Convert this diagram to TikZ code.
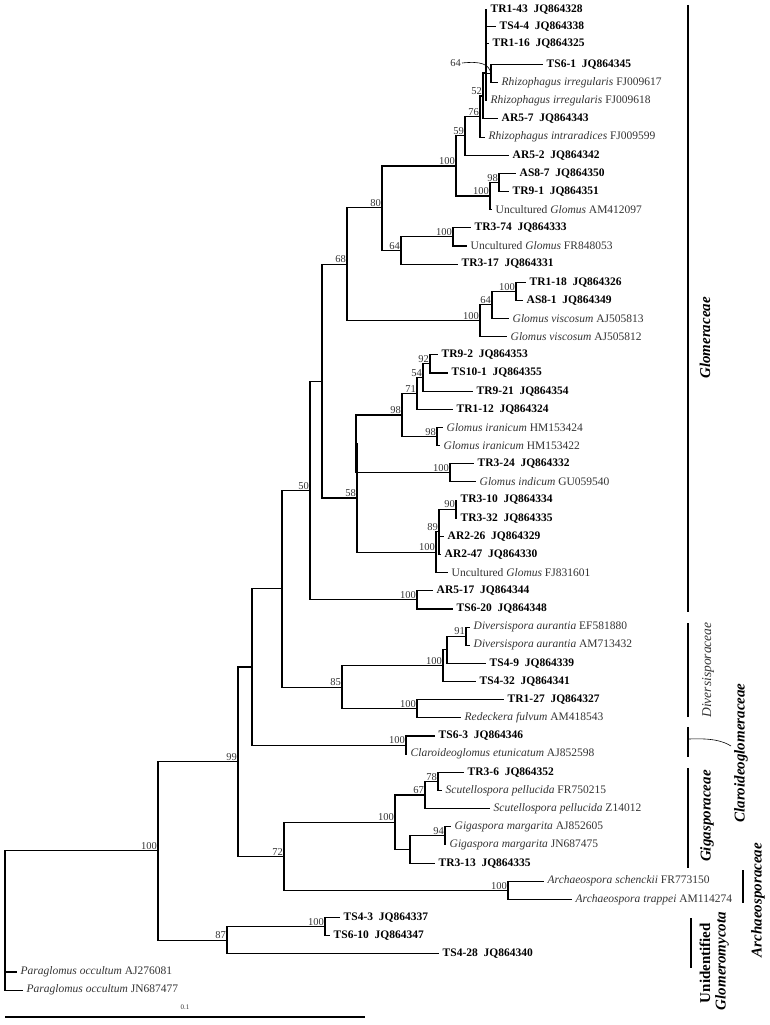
\documentclass[tikz,border=0pt]{standalone}
\usepackage{fontspec}
\setmainfont{Liberation Serif}
\newcommand{\isol}[2]{{\color{black}\bfseries #1\hspace{.5em}#2}}
\newcommand{\taxon}[2]{\textit{#1} #2}

\begin{document}
\begin{tikzpicture}[x=1pt,y=-1pt,
	every node/.style={font=\fontsize{11.5}{13}\selectfont, text=black!80},
	br/.style={line width=1.1pt, line cap=rect},
	leaf/.style={anchor=west, inner xsep=4.5pt, inner ysep=0pt},
	bs/.style={anchor=south east, inner sep=1pt, font=\fontsize{10.5}{12}\selectfont},
	ptr/.style={line width=0.6pt},
	bar/.style={line width=1.8pt},
	clade/.style={rotate=90, inner sep=0pt, text=black, font=\fontsize{15}{17}\selectfont\bfseries\itshape}]
	\useasboundingbox (0,0) rectangle (769,1025);
	\coordinate (root) at (5,920.5);
	\coordinate (nMain) at (158,850.9);
	\coordinate (n99) at (238,761.6);
	\coordinate (n87) at (227,940.2);
	\coordinate (nTS43) at (325,926.6);
	\coordinate (nA252) at (252,667);
	\coordinate (nA282) at (282,588.9);
	\coordinate (n50) at (310,490.5);
	\coordinate (nA322) at (322,381.1);
	\coordinate (n68) at (347,264.2);
	\coordinate (n80) at (382,207.6);
	\coordinate (nG1) at (456,166);
	\coordinate (n59) at (465,135.9);
	\coordinate (n76) at (480,116.5);
	\coordinate (n52) at (483,96);
	\coordinate (nZ) at (486,73);
	\coordinate (n64a) at (491,73.5);
	\coordinate (nAS) at (490,196);
	\coordinate (n98b) at (499,182.4);
	\coordinate (n64b) at (401,250.5);
	\coordinate (nTR374) at (453,236.9);
	\coordinate (n100d) at (480,320.8);
	\coordinate (n64c) at (492,304.9);
	\coordinate (nTR118) at (516,291.3);
	\coordinate (n58) at (357,498);
	\coordinate (nY) at (356,443.9);
	\coordinate (n98a) at (402,415);
	\coordinate (n71) at (417,393.4);
	\coordinate (n54) at (423,377.5);
	\coordinate (n92) at (430,363.9);
	\coordinate (n98i) at (437,436.5);
	\coordinate (nTR324) at (450,472.8);
	\coordinate (nAR2) at (436,552.2);
	\coordinate (n89) at (439,531.8);
	\coordinate (n90) at (456,509.1);
	\coordinate (nAR517) at (417,599.9);
	\coordinate (n85) at (342,687.2);
	\coordinate (nDiv) at (443,665.7);
	\coordinate (nW) at (447,649.8);
	\coordinate (n91) at (466,636.2);
	\coordinate (nTR127) at (417,708.8);
	\coordinate (nTS63) at (406,745.1);
	\coordinate (n72) at (284,856.2);
	\coordinate (nGig) at (395,822.2);
	\coordinate (n67) at (425,795);
	\coordinate (n78) at (438,781.4);
	\coordinate (nV) at (410,849.4);
	\coordinate (n94) at (445,835.8);
	\coordinate (nArc) at (508,890.3);

	\node[leaf] (l1) at (486,10) {\isol{TR1-43}{JQ864328}};
	\node[leaf] (l2) at (495,26.5) {\isol{TS4-4}{JQ864338}};
	\node[leaf] (l3) at (488,43.5) {\isol{TR1-16}{JQ864325}};
	\node[leaf] (l4) at (542,64.5) {\isol{TS6-1}{JQ864345}};
	\node[leaf] (l5) at (497,82.6) {\taxon{Rhizophagus irregularis}{FJ009617}};
	\node[leaf] (l6) at (486,100.8) {\taxon{Rhizophagus irregularis}{FJ009618}};
	\node[leaf] (l7) at (497,118.9) {\isol{AR5-7}{JQ864343}};
	\node[leaf] (l8) at (484,137.1) {\taxon{Rhizophagus intraradices}{FJ009599}};
	\node[leaf] (l9) at (508,155.2) {\isol{AR5-2}{JQ864342}};
	\node[leaf] (l10) at (515,173.4) {\isol{AS8-7}{JQ864350}};
	\node[leaf] (l11) at (508,191.5) {\isol{TR9-1}{JQ864351}};
	\node[leaf] (l12) at (491,209.7) {Uncultured \textit{Glomus} AM412097};
	\node[leaf] (l13) at (470,227.8) {\isol{TR3-74}{JQ864333}};
	\node[leaf] (l14) at (466,246) {Uncultured \textit{Glomus} FR848053};
	\node[leaf] (l15) at (457,264.1) {\isol{TR3-17}{JQ864331}};
	\node[leaf] (l16) at (525,282.3) {\isol{TR1-18}{JQ864326}};
	\node[leaf] (l17) at (522,300.4) {\isol{AS8-1}{JQ864349}};
	\node[leaf] (l18) at (508,318.6) {\taxon{Glomus viscosum}{AJ505813}};
	\node[leaf] (l19) at (506,336.7) {\taxon{Glomus viscosum}{AJ505812}};
	\node[leaf] (l20) at (437,354.9) {\isol{TR9-2}{JQ864353}};
	\node[leaf] (l21) at (447,373) {\isol{TS10-1}{JQ864355}};
	\node[leaf] (l22) at (472,391.2) {\isol{TR9-21}{JQ864354}};
	\node[leaf] (l23) at (452,409.3) {\isol{TR1-12}{JQ864324}};
	\node[leaf] (l24) at (442,427.5) {\taxon{Glomus iranicum}{HM153424}};
	\node[leaf] (l25) at (439,445.6) {\taxon{Glomus iranicum}{HM153422}};
	\node[leaf] (l26) at (473,463.8) {\isol{TR3-24}{JQ864332}};
	\node[leaf] (l27) at (475,481.9) {\taxon{Glomus indicum}{GU059540}};
	\node[leaf] (l28) at (456,500.1) {\isol{TR3-10}{JQ864334}};
	\node[leaf] (l29) at (456,518.2) {\isol{TR3-32}{JQ864335}};
	\node[leaf] (l30) at (443,536.4) {\isol{AR2-26}{JQ864329}};
	\node[leaf] (l31) at (440,554.5) {\isol{AR2-47}{JQ864330}};
	\node[leaf] (l32) at (447,572.7) {Uncultured \textit{Glomus} FJ831601};
	\node[leaf] (l33) at (432,590.8) {\isol{AR5-17}{JQ864344}};
	\node[leaf] (l34) at (452,609) {\isol{TS6-20}{JQ864348}};
	\node[leaf] (l35) at (469,627.1) {\taxon{Diversispora aurantia}{EF581880}};
	\node[leaf] (l36) at (469,645.3) {\taxon{Diversispora aurantia}{AM713432}};
	\node[leaf] (l37) at (485,663.4) {\isol{TS4-9}{JQ864339}};
	\node[leaf] (l38) at (475,681.6) {\isol{TS4-32}{JQ864341}};
	\node[leaf] (l39) at (503,699.7) {\isol{TR1-27}{JQ864327}};
	\node[leaf] (l40) at (460,717.9) {\taxon{Redeckera fulvum}{AM418543}};
	\node[leaf] (l41) at (434,736) {\isol{TS6-3}{JQ864346}};
	\node[leaf] (l42) at (406,754.2) {\taxon{Claroideoglomus etunicatum}{AJ852598}};
	\node[leaf] (l43) at (463,772.3) {\isol{TR3-6}{JQ864352}};
	\node[leaf] (l44) at (441,790.5) {\taxon{Scutellospora pellucida}{FR750215}};
	\node[leaf] (l45) at (489,808.6) {\taxon{Scutellospora pellucida}{Z14012}};
	\node[leaf] (l46) at (450,826.8) {\taxon{Gigaspora margarita}{AJ852605}};
	\node[leaf] (l47) at (445,844.9) {\taxon{Gigaspora margarita}{JN687475}};
	\node[leaf] (l48) at (434,863.1) {\isol{TR3-13}{JQ864335}};
	\node[leaf] (l49) at (543,881.2) {\taxon{Archaeospora schenckii}{FR773150}};
	\node[leaf] (l50) at (571,899.4) {\taxon{Archaeospora trappei}{AM114274}};
	\node[leaf] (l51) at (339,917.5) {\isol{TS4-3}{JQ864337}};
	\node[leaf] (l52) at (329,935.7) {\isol{TS6-10}{JQ864347}};
	\node[leaf] (l53) at (438,953.8) {\isol{TS4-28}{JQ864340}};
	\node[leaf] (l54) at (16,972) {\taxon{Paraglomus occultum}{AJ276081}};
	\node[leaf] (l55) at (22,990.1) {\taxon{Paraglomus occultum}{JN687477}};

	\draw[br] (root) |- (nMain) (root) |- (l54.west) (root) |- (l55.west);
	\draw[br] (nMain) |- (n99) (nMain) |- (n87);
	\draw[br] (n99) |- (nA252) (n99) |- (n72);
	\draw[br] (nA252) |- (nA282) (nA252) |- (nTS63);
	\draw[br] (nA282) |- (n50) (nA282) |- (n85);
	\draw[br] (n50) |- (nA322) (n50) |- (nAR517);
	\draw[br] (nA322) |- (n68) (nA322) |- (n58);
	\draw[br] (n68) |- (n80) (n68) |- (n100d);
	\draw[br] (n80) |- (nG1) (n80) |- (n64b);
	\draw[br] (nG1) |- (n59) (nG1) |- (nAS);
	\draw[br] (n59) |- (n76) (n59) |- (l9.west);
	\draw[br] (n76) |- (n52) (n76) |- (l8.west);
	\draw[br] (n52) |- (nZ) (n52) |- (l7.west);
	\draw[br] (nZ) |- (l1.west) (nZ) |- (l2.west) (nZ) |- (l3.west) (nZ) |- (n64a) (nZ) |- (l6.west);
	\draw[br] (n64a) |- (l4.west) (n64a) |- (l5.west);
	\draw[br] (nAS) |- (n98b) (nAS) |- (l12.west);
	\draw[br] (n98b) |- (l10.west) (n98b) |- (l11.west);
	\draw[br] (n64b) |- (nTR374) (n64b) |- (l15.west);
	\draw[br] (nTR374) |- (l13.west) (nTR374) |- (l14.west);
	\draw[br] (n100d) |- (n64c) (n100d) |- (l19.west);
	\draw[br] (n64c) |- (nTR118) (n64c) |- (l18.west);
	\draw[br] (nTR118) |- (l16.west) (nTR118) |- (l17.west);
	\draw[br] (n58) |- (nY) (n58) |- (nAR2);
	\draw[br] (nY) |- (n98a) (nY) |- (nTR324);
	\draw[br] (n98a) |- (n71) (n98a) |- (n98i);
	\draw[br] (n71) |- (n54) (n71) |- (l23.west);
	\draw[br] (n54) |- (n92) (n54) |- (l22.west);
	\draw[br] (n92) |- (l20.west) (n92) |- (l21.west);
	\draw[br] (n98i) |- (l24.west) (n98i) |- (l25.west);
	\draw[br] (nTR324) |- (l26.west) (nTR324) |- (l27.west);
	\draw[br] (nAR2) |- (n89) (nAR2) |- (l32.west);
	\draw[br] (n89) |- (n90) (n89) |- (l30.west) (n89) |- (l31.west);
	\draw[br] (n90) |- (l28.west) (n90) |- (l29.west);
	\draw[br] (nAR517) |- (l33.west) (nAR517) |- (l34.west);
	\draw[br] (n85) |- (nDiv) (n85) |- (nTR127);
	\draw[br] (nDiv) |- (nW) (nDiv) |- (l38.west);
	\draw[br] (nW) |- (n91) (nW) |- (l37.west);
	\draw[br] (n91) |- (l35.west) (n91) |- (l36.west);
	\draw[br] (nTR127) |- (l39.west) (nTR127) |- (l40.west);
	\draw[br] (nTS63) |- (l41.west) (nTS63) |- (l42.west);
	\draw[br] (n72) |- (nGig) (n72) |- (nArc);
	\draw[br] (nGig) |- (n67) (nGig) |- (nV);
	\draw[br] (n67) |- (n78) (n67) |- (l45.west);
	\draw[br] (n78) |- (l43.west) (n78) |- (l44.west);
	\draw[br] (nV) |- (n94) (nV) |- (l48.west);
	\draw[br] (n94) |- (l46.west) (n94) |- (l47.west);
	\draw[br] (nArc) |- (l49.west) (nArc) |- (l50.west);
	\draw[br] (n87) |- (nTS43) (n87) |- (l53.west);
	\draw[br] (nTS43) |- (l51.west) (nTS43) |- (l52.west);

	\node[bs] (bMain) at (nMain) {100};
	\node[bs] (b99) at (n99) {99};
	\node[bs] (b87) at (n87) {87};
	\node[bs] (bTS43) at (nTS43) {100};
	\node[bs] (b50) at (n50) {50};
	\node[bs] (b68) at (n68) {68};
	\node[bs] (b80) at (n80) {80};
	\node[bs] (bG1) at (nG1) {100};
	\node[bs] (b59) at (n59) {59};
	\node[bs] (b76) at (n76) {76};
	\node[bs] (b52) at (n52) {52};
	\node[bs, anchor=east] (b64a) at (462,63) {64};
	\draw[ptr] (b64a.east) .. controls (481,61) and (489,64) .. (n64a);
	\node[bs] (bAS) at (nAS) {100};
	\node[bs] (b98b) at (n98b) {98};
	\node[bs] (b64b) at (n64b) {64};
	\node[bs] (bTR374) at (nTR374) {100};
	\node[bs] (b100d) at (n100d) {100};
	\node[bs] (b64c) at (n64c) {64};
	\node[bs] (bTR118) at (nTR118) {100};
	\node[bs] (b58) at (n58) {58};
	\node[bs] (b98a) at (n98a) {98};
	\node[bs] (b71) at (n71) {71};
	\node[bs] (b54) at (n54) {54};
	\node[bs] (b92) at (n92) {92};
	\node[bs] (b98i) at (n98i) {98};
	\node[bs] (bTR324) at (nTR324) {100};
	\node[bs] (bAR2) at (nAR2) {100};
	\node[bs] (b89) at (n89) {89};
	\node[bs] (b90) at (n90) {90};
	\node[bs] (bAR517) at (nAR517) {100};
	\node[bs] (b85) at (n85) {85};
	\node[bs] (bDiv) at (nDiv) {100};
	\node[bs] (b91) at (n91) {91};
	\node[bs] (bTR127) at (nTR127) {100};
	\node[bs] (bTS63) at (nTS63) {100};
	\node[bs] (b72) at (n72) {72};
	\node[bs] (bGig) at (nGig) {100};
	\node[bs] (b67) at (n67) {67};
	\node[bs] (b78) at (n78) {78};
	\node[bs] (b94) at (n94) {94};
	\node[bs] (bArc) at (nArc) {100};

	\draw[bar] (688,5) -- (688,612);
	\node[clade] (glom) at (705,338) {Glomeraceae};
	\draw[bar] (688,623) -- (688,717);
	\node[clade, text=black!80, font=\fontsize{13.5}{15}\selectfont\itshape] (divers) at (708,670) {Diversisporaceae};
	\draw[bar] (688,727) -- (688,757);
	\draw[ptr] (689,739) .. controls (712,738) and (723,741) .. (731,746);
	\node[clade] (claro) at (741,753) {Claroideoglomeraceae};
	\draw[bar] (688,768) -- (688,868);
	\node[clade] (giga) at (707,816) {Gigasporaceae};
	\draw[bar] (743,870) -- (743,903);
	\node[clade] (archaeo) at (758,900) {Archaeosporaceae};
	\draw[bar] (691,918) -- (691,968);
	\node[clade, font=\fontsize{15}{17}\selectfont\bfseries] (unid) at (705,963) {Unidentified};
	\node[clade] (glomero) at (722,961) {Glomeromycota};

	\draw[line width=1.2pt] (5,1017) -- (365,1017);
	\node[font=\fontsize{7}{8}\selectfont] (scl) at (185,1007) {0.1};
\end{tikzpicture}
\end{document}
